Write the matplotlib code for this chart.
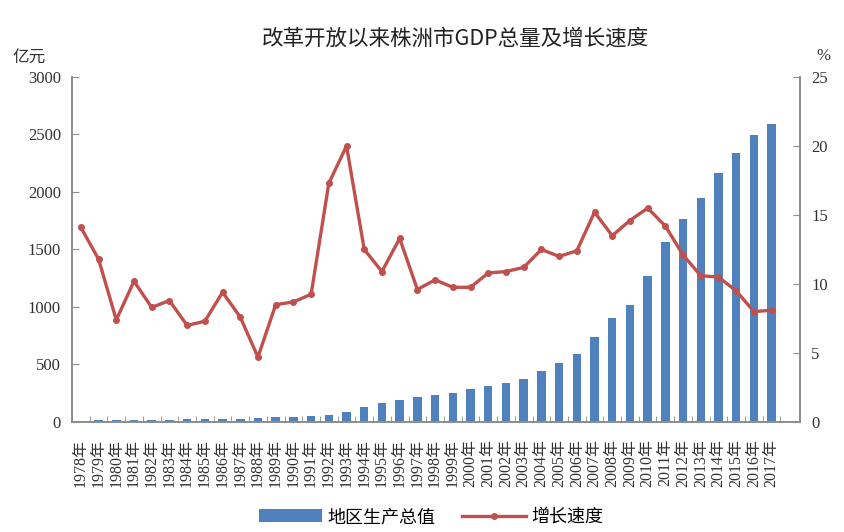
import numpy as np
import matplotlib.pyplot as plt

plt.rcParams['font.family'] = ['Liberation Serif', 'Noto Sans CJK SC', 'DejaVu Sans']

# data
years = [str(y) + '年' for y in range(1978, 2018)]
gdp = [12, 13, 14, 15, 16, 20, 22, 25, 27, 30, 34, 40, 47, 50, 64, 90,
       127, 169, 195, 220, 238, 250, 290, 316, 342, 371, 446, 516, 591, 742,
       901, 1017, 1270, 1563, 1762, 1951, 2162, 2336, 2496, 2589]
growth = [14.1, 11.8, 7.4, 10.2, 8.3, 8.8, 7.0, 7.3, 9.4, 7.6, 4.7, 8.5, 8.7,
          9.25, 17.3, 20.0, 12.5, 10.9, 13.3, 9.6, 10.3, 9.76, 9.76, 10.8,
          10.9, 11.2, 12.5, 12.0, 12.4, 15.2, 13.5, 14.6, 15.5, 14.2, 12.1,
          10.6, 10.5, 9.5, 8.0, 8.1]

blue = '#4F81BD'
red = '#C0504D'
grey = '#8C8C8C'
cjk = ['Noto Sans CJK SC', 'DejaVu Sans']

fig = plt.figure(figsize=(8.45, 5.32), dpi=100)
ax = fig.add_axes([0.0852, 0.2068, 0.8615, 0.6485])
ax2 = ax.twinx()

x = np.arange(len(years))
bars = ax.bar(x, gdp, width=0.48, color=blue, label='地区生产总值', zorder=2)
line, = ax2.plot(x, growth, color=red, lw=2.4, marker='o', ms=4,
                 label='增长速度', zorder=3)

ax.set_xlim(-0.5, 40.6)
ax.set_ylim(0, 3000)
ax2.set_ylim(0, 25)
ax.set_yticks(range(0, 3001, 500))
ax2.set_yticks(range(0, 26, 5))

ax.set_xticks(x)
ax.set_xticklabels(years, rotation=90, fontsize=11.5, color='#333333')
ax.set_xticks(np.arange(-0.5, 40, 1), minor=True)
ax.tick_params(axis='x', which='major', length=0, pad=12)
ax.tick_params(axis='x', which='minor', direction='in', length=4, color=grey)
ax.tick_params(axis='y', direction='in', length=5, color=grey,
               labelsize=12, labelcolor='#333333', pad=8)
ax2.tick_params(axis='y', direction='in', length=5, color=grey,
                labelsize=12, labelcolor='#333333', pad=8)

for a in (ax, ax2):
    a.spines['top'].set_visible(False)
    for s in ('left', 'right', 'bottom'):
        a.spines[s].set_color(grey)
        a.spines[s].set_linewidth(1.2)

fig.text(0.539, 0.928, '改革开放以来株洲市GDP总量及增长速度', ha='center', va='center',
         fontsize=15.5, family=cjk, fontweight='medium', color='#222222')
fig.text(0.035, 0.89, '亿元', ha='center', va='center', fontsize=12,
         family=cjk, color='#333333')
fig.text(0.974, 0.895, '%', ha='center', va='center', fontsize=12,
         color='#333333')

fig.legend([bars, line], ['地区生产总值', '增长速度'], loc='center',
           bbox_to_anchor=(0.51, 0.028), ncol=2, frameon=False,
           prop={'family': cjk, 'size': 13}, handlelength=3.5,
           columnspacing=1.5, handletextpad=0.3)

fig.savefig('out.png', dpi=100)
